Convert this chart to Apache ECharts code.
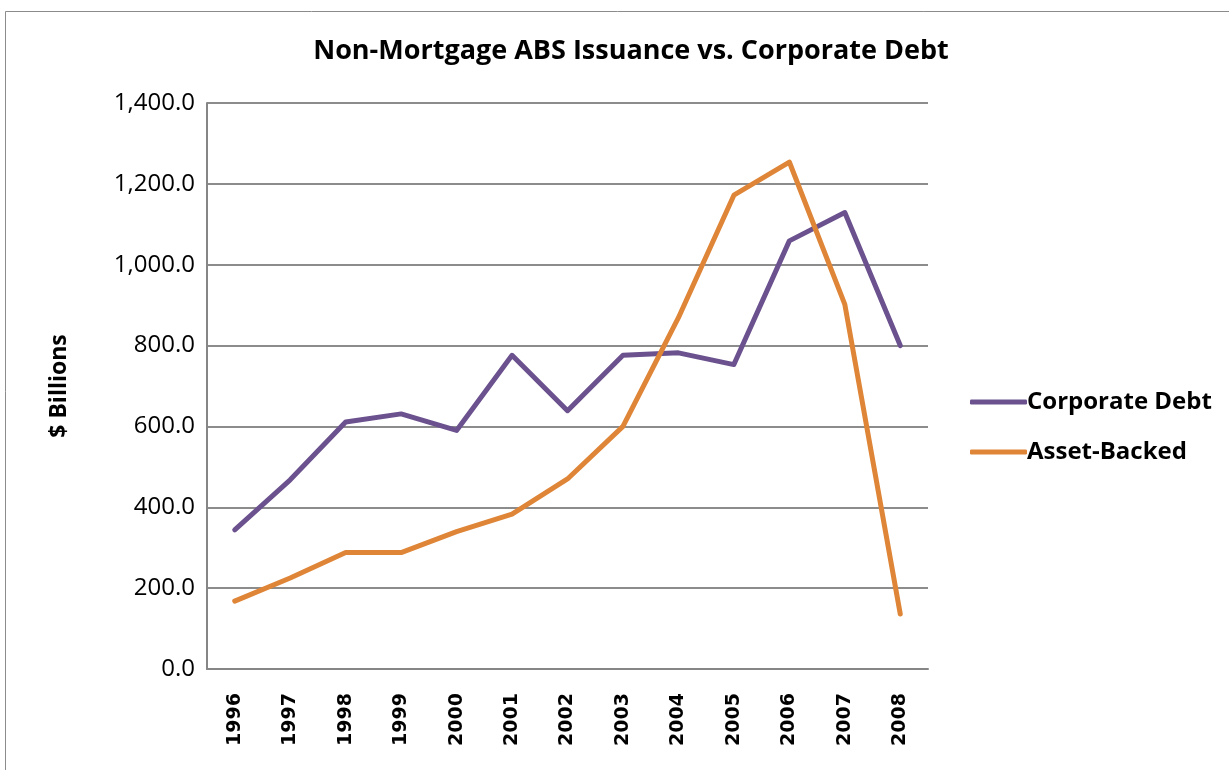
<!DOCTYPE html>
<html lang="en">
<head>
    <meta charset="UTF-8">
    <title>Non-Mortgage ABS Issuance vs. Corporate Debt</title>
    <script src="https://cdn.jsdelivr.net/npm/echarts@6/dist/echarts.min.js"></script>
    <style>
        html, body { margin: 0; padding: 0; background: #fff; }
        #main { width: 1229px; height: 770px; }
    </style>
</head>
<body>
<div id="main"></div>
<script>
    // data ($ billions)
    var years = ['1996', '1997', '1998', '1999', '2000', '2001', '2002', '2003', '2004', '2005', '2006', '2007', '2008'];
    var corporateDebt = [344, 468, 611, 631, 590, 776, 639, 776, 782, 753, 1059, 1129, 800];
    var assetBacked = [168, 225, 288, 288, 340, 383, 470, 600, 869, 1172, 1254, 902, 136];

    var myChart = echarts.init(document.getElementById('main'));

    var option = {
        animation: false,
        backgroundColor: '#fff',
        title: {
            text: 'Non-Mortgage ABS Issuance vs. Corporate Debt',
            left: 626,
            textAlign: 'center',
            top: 33,
            textStyle: {
                fontFamily: 'Open Sans',
                fontWeight: 'bold',
                fontSize: 27,
                color: '#000'
            }
        },
        graphic: [{
            type: 'rect',
            shape: { x: 5.5, y: 11.5, width: 1240, height: 800 },
            style: { fill: 'none', stroke: '#8c8c8c', lineWidth: 1 },
            silent: true
        }],
        legend: {
            orient: 'vertical',
            left: 965,
            top: 385,
            itemWidth: 57,
            itemHeight: 5,
            itemGap: 26,
            icon: 'roundRect',
            textStyle: {
                fontFamily: 'Open Sans',
                fontWeight: 'bold',
                fontSize: 24,
                color: '#000',
                padding: [0, 0, 0, -5]
            },
            data: ['Corporate Debt', 'Asset-Backed']
        },
        grid: {
            left: 207,
            right: 301,
            top: 103,
            bottom: 101
        },
        xAxis: {
            type: 'category',
            data: years,
            boundaryGap: true,
            axisLine: { lineStyle: { color: '#868686', width: 2 } },
            axisTick: { show: false },
            axisLabel: {
                rotate: 90,
                margin: 24,
                fontFamily: 'DejaVu Sans',
                fontWeight: 'bold',
                fontSize: 19,
                color: '#000'
            }
        },
        yAxis: {
            type: 'value',
            min: 0,
            max: 1400,
            interval: 200,
            name: '$ Billions',
            nameLocation: 'middle',
            nameGap: 136,
            nameRotate: 90,
            nameTextStyle: {
                fontFamily: 'Open Sans',
                fontWeight: 'bold',
                fontSize: 23,
                color: '#000'
            },
            axisLine: { show: true, lineStyle: { color: '#868686', width: 2 } },
            axisTick: { show: false },
            splitLine: { lineStyle: { color: '#8c8c8c', width: 2 } },
            axisLabel: {
                margin: 12,
                fontFamily: 'Open Sans',
                fontSize: 24,
                color: '#000',
                formatter: function (v) {
                    return v.toLocaleString('en-US', { minimumFractionDigits: 1, maximumFractionDigits: 1 });
                }
            }
        },
        series: [{
            name: 'Corporate Debt',
            type: 'line',
            data: corporateDebt,
            showSymbol: false,
            lineStyle: { color: '#6b528f', width: 5, cap: 'round', join: 'round' },
            itemStyle: { color: '#6b528f' }
        }, {
            name: 'Asset-Backed',
            type: 'line',
            data: assetBacked,
            showSymbol: false,
            lineStyle: { color: '#df8537', width: 5, cap: 'round', join: 'round' },
            itemStyle: { color: '#df8537' }
        }]
    };

    myChart.setOption(option);
</script>
</body>
</html>
